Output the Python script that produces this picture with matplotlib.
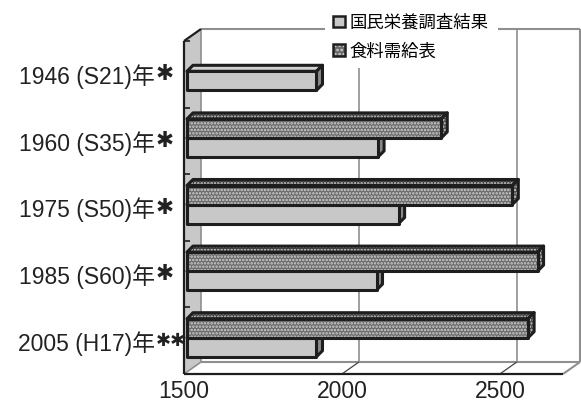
import numpy as np
import matplotlib.pyplot as plt
from matplotlib.patches import Polygon, Patch
from matplotlib.legend_handler import HandlerTuple

plt.rcParams['font.family'] = ['Liberation Sans', 'Noto Sans CJK JP', 'DejaVu Sans']
plt.rcParams['hatch.linewidth'] = 1.2

# --- data (kcal) ---
years = ['1946 (S21)年', '1960 (S35)年', '1975 (S50)年',
         '1985 (S60)年', '2005 (H17)年']
marks = ['✱', '✱', '✱', '✱', '✱✱']
survey = [1910, 2105, 2170, 2100, 1910]          # 国民栄養調査結果
balance = [np.nan, 2305, 2530, 2610, 2580]       # 食料需給表
xticks = [1500, 2000, 2500]
X0, X1 = 1500, 2700

W, H = 581, 405
fig = plt.figure(figsize=(W / 100, H / 100), dpi=100)
ax = fig.add_axes([184 / W, (H - 374) / H, (563 - 184) / W, (374 - 41) / H])
ax.set_xlim(X0, X1)
ax.set_ylim(len(years) - 0.5, -0.5)
ax.patch.set_visible(False)
for s in ax.spines.values():
    s.set_visible(False)

# pixel -> data scale, for the fake 3D depth
ux = (563 - 184) / (X1 - X0)
uy = (374 - 41) / len(years)

def shift(x, y, d):
    return x + d[0] / ux, y - d[1] / uy

WALL = (17, 12)
BAR_F = (3, 3)
BAR_B = (9, 9)
YB, YT = len(years) - 0.5, -0.5
grey = '#8f8f8f'
dark = '#1e1e1e'

def seg(p, q, **kw):
    ax.plot([p[0], q[0]], [p[1], q[1]], clip_on=False, solid_capstyle='butt', **kw)

# back wall + gridlines
for v in xticks[1:]:
    seg(shift(v, YB, WALL), shift(v, YT, WALL), color=grey, lw=1.2, zorder=1)
seg(shift(X0, YT, WALL), shift(X1, YT, WALL), color=grey, lw=1.5, zorder=1)
seg(shift(X1, YB, WALL), shift(X1, YT, WALL), color=grey, lw=1.5, zorder=1)

# floor
seg(shift(X0, YB, WALL), shift(X1, YB, WALL), color=grey, lw=1.5, zorder=1)
seg((X1, YB), shift(X1, YB, WALL), color=grey, lw=1.5, zorder=1)
for v in xticks[1:]:
    seg((v, YB), shift(v, YB, WALL), color='#444444', lw=0.9, zorder=1)
seg((X0, YB), (X1, YB), color=dark, lw=1.6, zorder=3)

# left wall
wall = [(X0, YT), (X0, YB), shift(X0, YB, WALL), shift(X0, YT, WALL)]
ax.add_patch(Polygon(wall, closed=True, facecolor='#c8c8c8', edgecolor='none',
                     zorder=1, clip_on=False))
seg(shift(X0, YB, WALL), shift(X0, YT, WALL), color=grey, lw=1.2, zorder=1)
seg((X0, YB), shift(X0, YB, WALL), color=grey, lw=1.2, zorder=1)
seg((X0, YT), (X0, YB), color=dark, lw=1.6, zorder=3)
seg((X0, YT), shift(X0, YT, WALL), color=dark, lw=1.6, zorder=3)
for k in range(len(years)):
    seg((X0, k - 0.5), (X0 + 6 / ux, k - 0.5), color=dark, lw=1.2, zorder=3)


def bar3d(y, v, h, front, top, side, hatch=None, z=4):
    y0, y1 = y - h / 2, y + h / 2
    a = shift(X0, y1, BAR_F); b = shift(v, y1, BAR_F)
    c = shift(v, y0, BAR_F); d = shift(X0, y0, BAR_F)
    bc = shift(v, y0, BAR_B); bb = shift(v, y1, BAR_B); bd = shift(X0, y0, BAR_B)
    faces = [([d, c, bc, bd], top), ([c, b, bb, bc], side), ([a, b, c, d], front)]
    for pts, fc in faces:
        if hatch:
            ax.add_patch(Polygon(pts, closed=True, facecolor=fc, edgecolor='#d0d0d0',
                                 hatch=hatch, lw=0, zorder=z, clip_on=False))
            ax.add_patch(Polygon(pts, closed=True, facecolor='none', edgecolor=dark,
                                 lw=2.2, joinstyle='round', zorder=z, clip_on=False))
        else:
            ax.add_patch(Polygon(pts, closed=True, facecolor=fc, edgecolor=dark,
                                 lw=2.2, joinstyle='round', zorder=z, clip_on=False))


bh = 19 / uy
for i in range(len(years)):
    bar3d(i + bh / 2, survey[i], bh, '#c8c8c8', '#d2d2d2', '#8a8a8a', z=4 + i * 2)
    if not np.isnan(balance[i]):
        bar3d(i - bh / 2, balance[i], bh, '#6a6a6a', '#3c3c3c', '#4a4a4a',
              hatch='.....', z=5 + i * 2)

# ticks and labels
ax.set_yticks(range(len(years)), years)
ax.set_xticks(xticks, [str(v) for v in xticks])
ax.tick_params(axis='y', length=0, pad=21, labelsize=16.5, labelcolor='#222222')
ax.tick_params(axis='x', length=0, pad=4, labelsize=16.5, labelcolor='#222222')
for i, m in enumerate(marks):
    ax.text(-28 / 379, i, m, transform=ax.get_yaxis_transform(), ha='left',
            va='center', family='DejaVu Sans', fontsize=15.5 if len(m) == 1 else 13,
            color='#222222', clip_on=False)

handles = [Patch(facecolor='#c8c8c8', edgecolor=dark, lw=1.8),
           (Patch(facecolor='#6a6a6a', edgecolor='#d0d0d0', hatch='....', lw=0),
            Patch(facecolor='none', edgecolor=dark, lw=1.8))]
fig.legend(handles=handles, labels=['国民栄養調査結果', '食料需給表'],
           handler_map={tuple: HandlerTuple(ndivide=1)},
           loc='upper left', bbox_to_anchor=(316 / W, 1.0 + 3 / H),
           frameon=True, fancybox=False, edgecolor='none', facecolor='white',
           framealpha=1, fontsize=12.5, handlelength=0.65, handleheight=0.65,
           handletextpad=0.3, labelspacing=0.7, borderpad=0.5)

fig.savefig('out.png', dpi=100)
